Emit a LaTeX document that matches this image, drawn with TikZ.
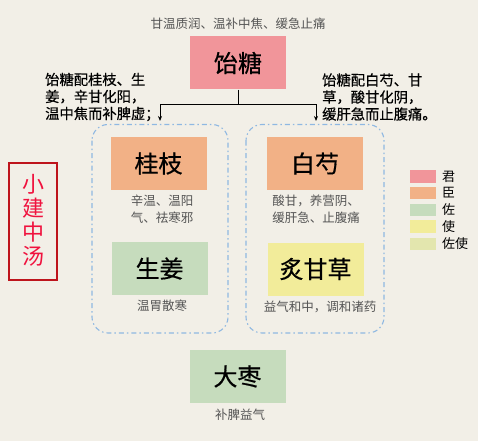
\documentclass[tikz,border=0pt]{standalone}
\usepackage{fontspec}
\setmainfont{Noto Sans CJK SC}
\newfontfamily\heavyfont[FakeBold=0.5]{Noto Sans CJK SC}
\usetikzlibrary{arrows.meta}
\definecolor{bgc}{HTML}{F2EFE7}
\definecolor{junc}{HTML}{F1959A}
\definecolor{chenc}{HTML}{F2B186}
\definecolor{zuoc}{HTML}{C6DCBD}
\definecolor{shic}{HTML}{F2EC9A}
\definecolor{zuoshic}{HTML}{E3E6AE}
\definecolor{dashc}{HTML}{8FB8E2}
\definecolor{titlec}{HTML}{BE141C}
\definecolor{titletext}{HTML}{F0123E}
\definecolor{desc}{HTML}{555555}
\tikzset{
  herb/.style={minimum width=96pt,minimum height=53pt,inner sep=0pt,font=\heavyfont\fontsize{24}{26}\selectfont},
  desctext/.style={text=desc,align=center,font=\fontsize{12.5}{17}\selectfont,inner sep=0pt},
  note/.style={align=left,font=\heavyfont\fontsize{14.3}{17}\selectfont,inner sep=0pt,anchor=west},
  groupbox/.style={draw=dashc,line width=1.1pt,rounded corners=16pt,dash pattern=on 5pt off 3pt on 1.5pt off 3pt},
  swatch/.style={minimum width=26pt,minimum height=12.5pt,inner sep=0pt},
  legtext/.style={font=\fontsize{13}{13}\selectfont,anchor=west,inner sep=0pt},
  link/.style={line width=0.9pt,draw=black},
}
\begin{document}
\begin{tikzpicture}[x=1pt,y=-1pt]
\fill[bgc] (0,0) rectangle (478,441);
\useasboundingbox (0,0) rectangle (478,441);

% group boxes
\draw[groupbox] (92,124.5) rectangle (228,333);
\draw[groupbox] (246,124.5) rectangle (384,333);

% top
\node[desctext] (tdesc) at (238,24) {甘温质润、温补中焦、缓急止痛};
\node[herb,fill=junc] (yt) at (238,63) {饴糖};

% herbs
\node[herb,fill=chenc] (gz) at (158.5,163.5) {桂枝};
\node[herb,fill=chenc] (bs) at (315,163.5) {白芍};
\node[herb,fill=zuoc] (sj) at (159.5,268.5) {生姜};
\node[herb,fill=shic] (gc) at (315.5,269) {炙甘草};
\node[herb,fill=zuoc] (dz) at (237.5,376.5) {大枣};

% descriptions
\node[desctext] (gzd) at (162,209.5) {辛温、温阳\\气、祛寒邪};
\node[desctext] (bsd) at (316,209.5) {酸甘，养营阴、\\缓肝急、止腹痛};
\node[desctext] (sjd) at (162,306) {温胃散寒};
\node[desctext] (gcd) at (320,307) {益气和中，调和诸药};
\node[desctext] (dzd) at (240,415) {补脾益气};

% notes
\node[note] (nl) at (45,97) {饴糖配桂枝、生\\姜，辛甘化阳，\\温中焦而补脾虚；};
\node[note] (nr) at (322,97) {饴糖配白芍、甘\\草，酸甘化阴，\\缓肝急而止腹痛。};

% connectors
\coordinate (j) at (238,104.5);
\coordinate (aL) at (160,121);
\coordinate (aR) at (316,121);
\draw[link] (yt.south) -- (j);
\draw[link,-{Stealth[length=5pt,width=4pt]}] (j) -| (aL);
\draw[link,-{Stealth[length=5pt,width=4pt]}] (j) -| (aR);

% title
\draw[titlec,line width=2.5pt] (9,163) rectangle (57,280);
\node[text=titletext,align=center,font=\fontsize{22}{24}\selectfont,inner sep=0pt] (title) at (33,220) {小\\建\\中\\汤};

% legend
\node[swatch,fill=junc] (s1) at (423,176.5) {};
\node[swatch,fill=chenc] (s2) at (423,193) {};
\node[swatch,fill=zuoc] (s3) at (423,210) {};
\node[swatch,fill=shic] (s4) at (423,226.5) {};
\node[swatch,fill=zuoshic] (s5) at (423,244) {};
\node[legtext] (l1) at (442,176.5) {君};
\node[legtext] (l2) at (442,193) {臣};
\node[legtext] (l3) at (442,210) {佐};
\node[legtext] (l4) at (442,226.5) {使};
\node[legtext] (l5) at (442,244) {佐使};
\end{tikzpicture}
\end{document}
